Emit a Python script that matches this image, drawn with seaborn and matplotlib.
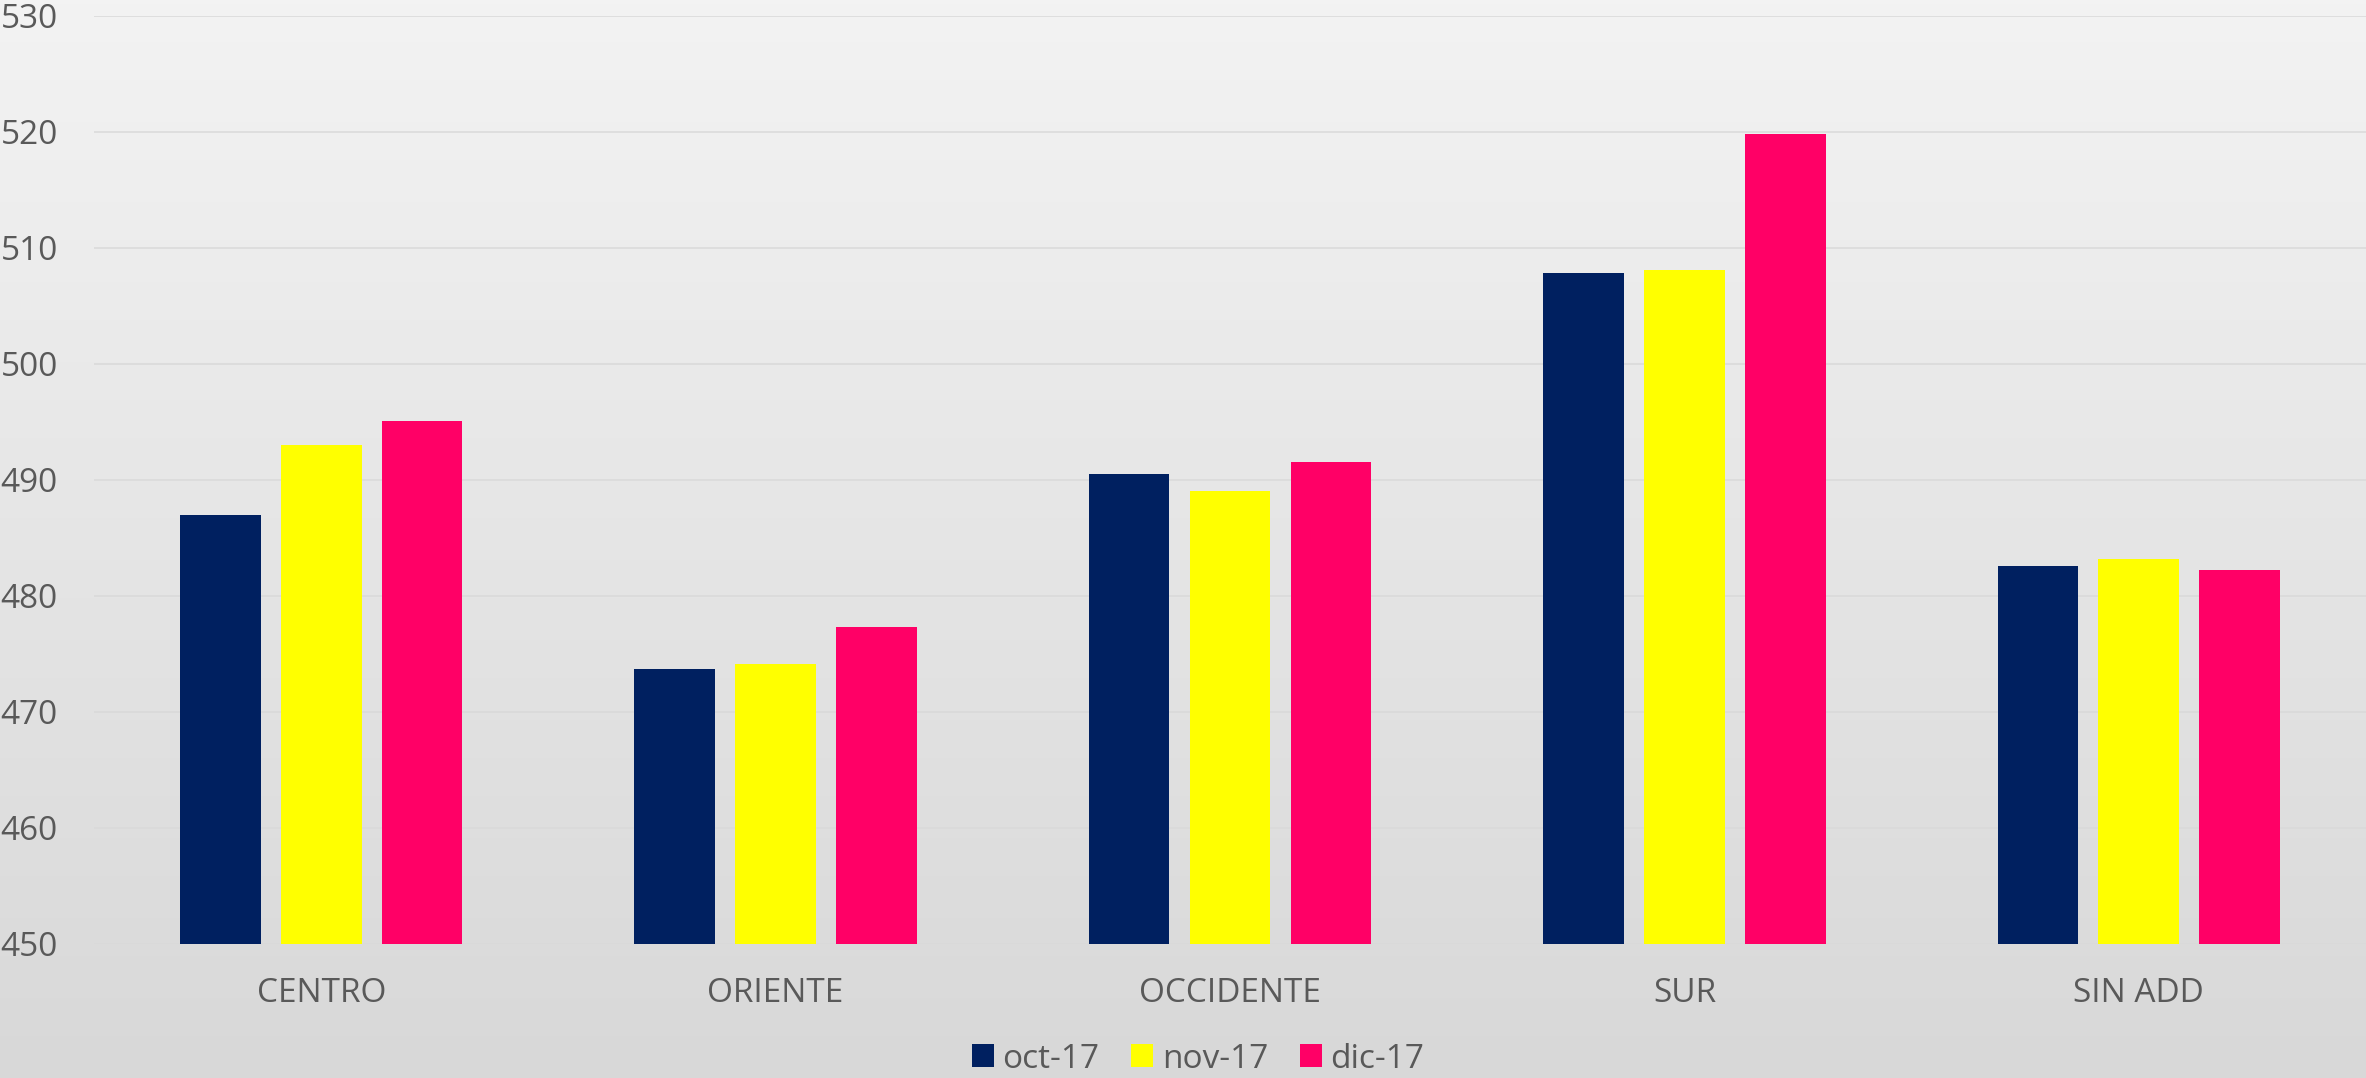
import numpy as np
import pandas as pd
import matplotlib
matplotlib.use("Agg")
import matplotlib.pyplot as plt
import seaborn as sns

regions = ["CENTRO", "ORIENTE", "OCCIDENTE", "SUR", "SIN ADD"]
months = ["oct-17", "nov-17", "dic-17"]
oct_vals = [487.0, 473.7, 490.5, 507.8, 482.6]
nov_vals = [493.0, 474.1, 489.0, 508.1, 483.2]
dic_vals = [495.1, 477.3, 491.5, 519.8, 482.2]
colors = ["#002060", "#FFFF00", "#FF0066"]
y_ticks = [450, 460, 470, 480, 490, 500, 510, 520, 530]

df = pd.DataFrame({
    "region": regions * 3,
    "mes": [m for m in months for _ in regions],
    "valor": oct_vals + nov_vals + dic_vals,
})

sns.set_theme(style="white")
plt.rcParams["font.family"] = ["Open Sans", "DejaVu Sans"]

W, H = 2366, 1078
fig = plt.figure(figsize=(W / 100, H / 100), dpi=100)
fig.patch.set_facecolor("#e6e6e6")

# background gradient
bg = fig.add_axes([0, 0, 1, 1], zorder=-10)
grad = np.linspace(0, 1, 256).reshape(-1, 1)
top = np.array([0xf3, 0xf3, 0xf3]) / 255
bot = np.array([0xd8, 0xd8, 0xd8]) / 255
img = top[None, None, :] * (1 - grad[:, :, None]) + bot[None, None, :] * grad[:, :, None]
bg.imshow(img, aspect="auto", extent=[0, 1, 0, 1], origin="upper")
bg.set_axis_off()

left = 94 / W
bottom = 1 - 944 / H
topf = 1 - 15.7 / H
ax = fig.add_axes([left, bottom, 1 - left, topf - bottom])
ax.patch.set_alpha(0)

sns.barplot(data=df, x="region", y="valor", hue="mes", palette=colors,
            width=0.666, gap=0.2, ax=ax, legend=True, saturation=1,
            edgecolor="none", linewidth=0)

ax.set_ylim(450, 530)
ax.set_xlim(-0.5, 4.5)
ax.set_yticks(y_ticks)
ax.set_xlabel("")
ax.set_ylabel("")
for s in ax.spines.values():
    s.set_visible(False)
ax.yaxis.grid(True, color="#d9d9d9", linewidth=1.1)
ax.set_axisbelow(True)
ax.tick_params(axis="y", length=0, pad=26, labelsize=24, labelcolor="#595959")
ax.tick_params(axis="x", length=0, pad=24, labelsize=24, labelcolor="#595959")
for lbl in ax.get_yticklabels():
    lbl.set_clip_on(False)

leg = ax.get_legend()
handles, labels = ax.get_legend_handles_labels()
leg.remove()
fig.legend(handles, labels, loc="center", bbox_to_anchor=(1198 / W, 1 - 1059 / H),
           ncol=3, frameon=False, fontsize=24, labelcolor="#595959",
           handlelength=0.67, handleheight=0.67, handletextpad=0.25,
           columnspacing=0.95, borderpad=0, borderaxespad=0)

fig.savefig("out.png", dpi=100)
